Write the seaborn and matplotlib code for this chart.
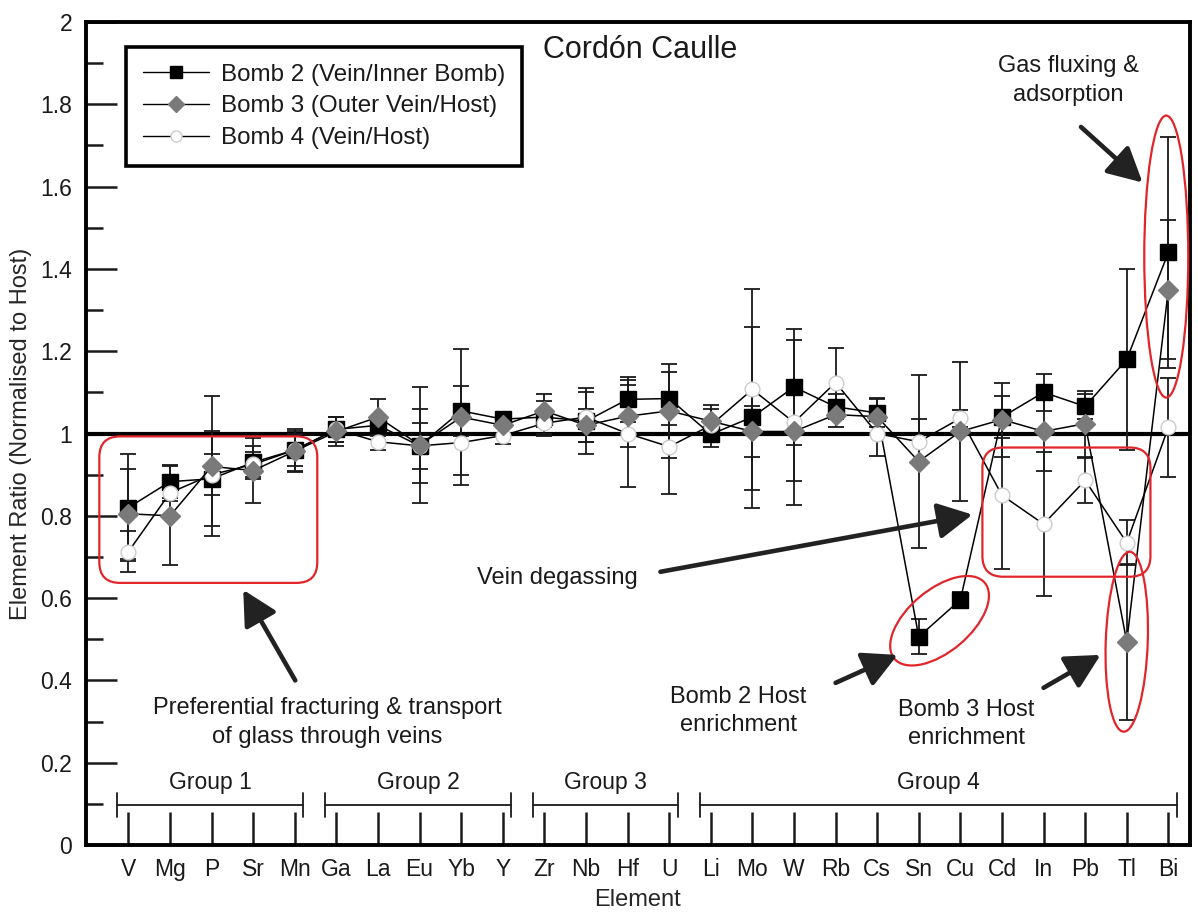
import numpy as np
import pandas as pd
import seaborn as sns
import matplotlib.pyplot as plt
from matplotlib.patches import Ellipse, FancyBboxPatch
from matplotlib.transforms import ScaledTranslation
from matplotlib.lines import Line2D
from matplotlib.ticker import MultipleLocator, FuncFormatter

# element ratios (vein / host)
elements = ["V", "Mg", "P", "Sr", "Mn", "Ga", "La", "Eu", "Yb", "Y", "Zr", "Nb", "Hf", "U",
            "Li", "Mo", "W", "Rb", "Cs", "Sn", "Cu", "Cd", "In", "Pb", "Tl", "Bi"]

bomb2 = [0.82, 0.883, 0.89, 0.93, 0.96, 1.01, 1.02, 0.97, 1.055, 1.035, 1.04, 1.03, 1.083,
         1.085, 0.998, 1.04, 1.113, 1.065, 1.05, 0.506, 0.596, 1.04, 1.10, 1.066, 1.18, 1.44]
bomb2_err = [0.13, 0.04, 0.115, 0.04, 0.04, 0.03, 0.02, 0.055, 0.06, 0.015, 0.04, 0.08, 0.055,
             0.065, 0.03, 0.22, 0.14, 0.03, 0.035, 0.043, 0.02, 0.05, 0.045, 0.03, 0.22, 0.28]

bomb3 = [0.805, 0.80, 0.92, 0.91, 0.957, 1.005, 1.04, 0.972, 1.04, 1.02, 1.055, 1.02, 1.042,
         1.055, 1.03, 1.005, 1.005, 1.046, 1.041, 0.932, 1.005, 1.034, 1.005, 1.024, 0.494, 1.35]
bomb3_err = [0.11, 0.12, 0.17, 0.08, 0.05, 0.035, 0.045, 0.14, 0.165, 0.02, 0.04, 0.04, 0.075,
             0.115, 0.04, 0.063, 0.12, 0.03, 0.045, 0.21, 0.17, 0.09, 0.095, 0.08, 0.19, 0.17]

bomb4 = [0.713, 0.856, 0.90, 0.925, 0.96, 1.01, 0.98, 0.97, 0.978, 0.995, 1.025, 1.04, 1.0,
         0.968, 1.02, 1.107, 1.027, 1.124, 1.0, 0.98, 1.037, 0.85, 0.78, 0.886, 0.735, 1.015]
bomb4_err = [0.05, 0.02, 0.05, 0.03, 0.05, 0.03, 0.02, 0.09, 0.08, 0.02, 0.03, 0.06, 0.13,
             0.115, 0.04, 0.245, 0.2, 0.083, 0.055, 0.055, 0.02, 0.18, 0.175, 0.054, 0.055, 0.12]

groups = [("Group 1", 0, 4), ("Group 2", 5, 9), ("Group 3", 10, 13), ("Group 4", 14, 25)]

sns.set_theme(style="ticks")
plt.rcParams["font.family"] = ["Liberation Sans", "DejaVu Sans"]
plt.rcParams["text.color"] = "#1a1a1a"

RED = "#e0262b"
INK = "#1a1a1a"
FS = 17

pos = np.arange(len(elements))
df = pd.DataFrame({"pos": pos, "element": elements,
                   "bomb2": bomb2, "bomb3": bomb3, "bomb4": bomb4})

fig = plt.figure(figsize=(11.98, 9.18), dpi=100)
ax = fig.add_axes([0.0718, 0.0795, 0.9215, 0.8965])

series = [
    ("Bomb 2 (Vein/Inner Bomb)", "bomb2", bomb2_err, "s", "black", "black", 11.3, 4),
    ("Bomb 4 (Vein/Host)", "bomb4", bomb4_err, "o", "white", "#cccccc", 10.6, 5),
    ("Bomb 3 (Outer Vein/Host)", "bomb3", bomb3_err, "D", "#7a7a7a", "#7a7a7a", 10.2, 6),
]

for name, col, err, mk, fc, ec, ms, z in series:
    ax.errorbar(df["pos"], df[col], yerr=err, fmt="none", ecolor=INK,
                elinewidth=1.3, capsize=5.5, capthick=1.3, zorder=2)
    sns.lineplot(data=df, x="pos", y=col, ax=ax, color="black", lw=1.1,
                 marker=mk, markersize=ms, markerfacecolor=fc, markeredgecolor=ec,
                 markeredgewidth=1, sort=False, errorbar=None, legend=False, zorder=z)

ax.axhline(1, color="black", lw=3, zorder=1.5)

# legend
handles = []
for name, col, err, mk, fc, ec, ms, z in [series[0], series[2], series[1]]:
    handles.append(Line2D([], [], color="black", lw=1, marker=mk, markersize=ms * 0.75,
                          markerfacecolor=fc, markeredgecolor=ec, label=name))
leg = ax.legend(handles=handles, loc="upper left", bbox_to_anchor=(0.036, 0.97),
                borderaxespad=0, fontsize=17.4, frameon=True, fancybox=False, framealpha=1,
                edgecolor="black", handlelength=2.75, handletextpad=0.5,
                labelspacing=0.4, borderpad=0.7)
leg.get_frame().set_linewidth(2.6)

# axes styling
ax.set_xlim(-1.02, 25.52)
ax.set_ylim(0, 2)
ax.set_xticks(pos, elements)
ax.yaxis.set_major_locator(MultipleLocator(0.2))
ax.yaxis.set_minor_locator(MultipleLocator(0.1))
ax.yaxis.set_major_formatter(FuncFormatter(lambda v, _: f"{v:g}"))
ax.tick_params(axis="x", direction="in", length=24, width=1.8, pad=9,
               labelsize=16.5, colors=INK)
ax.tick_params(axis="y", which="major", direction="in", length=22, width=1.8, pad=10,
               labelsize=16.5, colors=INK)
ax.tick_params(axis="y", which="minor", direction="in", length=12, width=1.8, colors=INK)
for s in ax.spines.values():
    s.set_linewidth(2.8)
    s.set_color("black")
ax.set_xlabel("Element", fontsize=FS, labelpad=6)
ax.set_ylabel("Element Ratio (Normalised to Host)", fontsize=FS, labelpad=6)

# group brackets
for label, a, b in groups:
    x0, x1 = a - 0.27, b + 0.2
    ax.plot([x0, x1], [0.097, 0.097], color=INK, lw=1.3, zorder=2)
    ax.plot([x0, x0], [0.068, 0.127], color=INK, lw=1.3, zorder=2)
    ax.plot([x1, x1], [0.068, 0.127], color=INK, lw=1.3, zorder=2)
    ax.text((x0 + x1) / 2, 0.152, label, ha="center", va="center", fontsize=FS - 0.5)

# red highlight boxes and ellipses
asp = 41.6 / 411
for (x0, y0, x1, y1) in [(-0.70, 0.637, 4.54, 0.993), (20.53, 0.652, 24.57, 0.966)]:
    ax.add_patch(FancyBboxPatch((x0, y0), x1 - x0, y1 - y0,
                                boxstyle="round,pad=0,rounding_size=0.5",
                                mutation_aspect=asp, fill=False, ec=RED, lw=1.6, zorder=7))


def px_ellipse(x, y, w, h, angle):
    tr = fig.dpi_scale_trans + ScaledTranslation(x, y, ax.transData)
    ax.add_patch(Ellipse((0, 0), w / 100, h / 100, angle=angle, transform=tr,
                         fill=False, ec=RED, lw=1.6, zorder=7))


px_ellipse(19.5, 0.545, 118, 62, 40)
px_ellipse(24.0, 0.494, 42, 180, -2)
px_ellipse(24.95, 1.43, 44, 282, 0)

# arrows
arrow_kw = dict(arrowstyle="-|>,head_length=1.05,head_width=0.55", lw=3.3,
                color="#222222", mutation_scale=20, shrinkA=0, shrinkB=0)
for tail, head in [((4.01, 0.40), (2.76, 0.62)),
                   ((12.79, 0.664), (20.29, 0.803)),
                   ((17.0, 0.394), (18.49, 0.462)),
                   ((22.0, 0.382), (23.37, 0.462)),
                   ((22.9, 1.745), (24.38, 1.61))]:
    ax.annotate("", xy=head, xytext=tail, arrowprops=arrow_kw, zorder=8)

# annotation text
ax.text(12.3, 1.932, "Cordón Caulle", ha="center", va="center", fontsize=22)
ax.text(22.6, 1.857, "Gas fluxing &\nadsorption", ha="center", va="center",
        fontsize=FS, linespacing=1.4)
ax.text(10.31, 0.65, "Vein degassing", ha="center", va="center", fontsize=FS)
ax.text(4.78, 0.297, "Preferential fracturing & transport\nof glass through veins",
        ha="center", va="center", fontsize=FS, linespacing=1.4)
ax.text(14.66, 0.326, "Bomb 2 Host\nenrichment", ha="center", va="center",
        fontsize=FS, linespacing=1.35)
ax.text(20.14, 0.294, "Bomb 3 Host\nenrichment", ha="center", va="center",
        fontsize=FS, linespacing=1.3)

fig.savefig("out.png", dpi=100)
